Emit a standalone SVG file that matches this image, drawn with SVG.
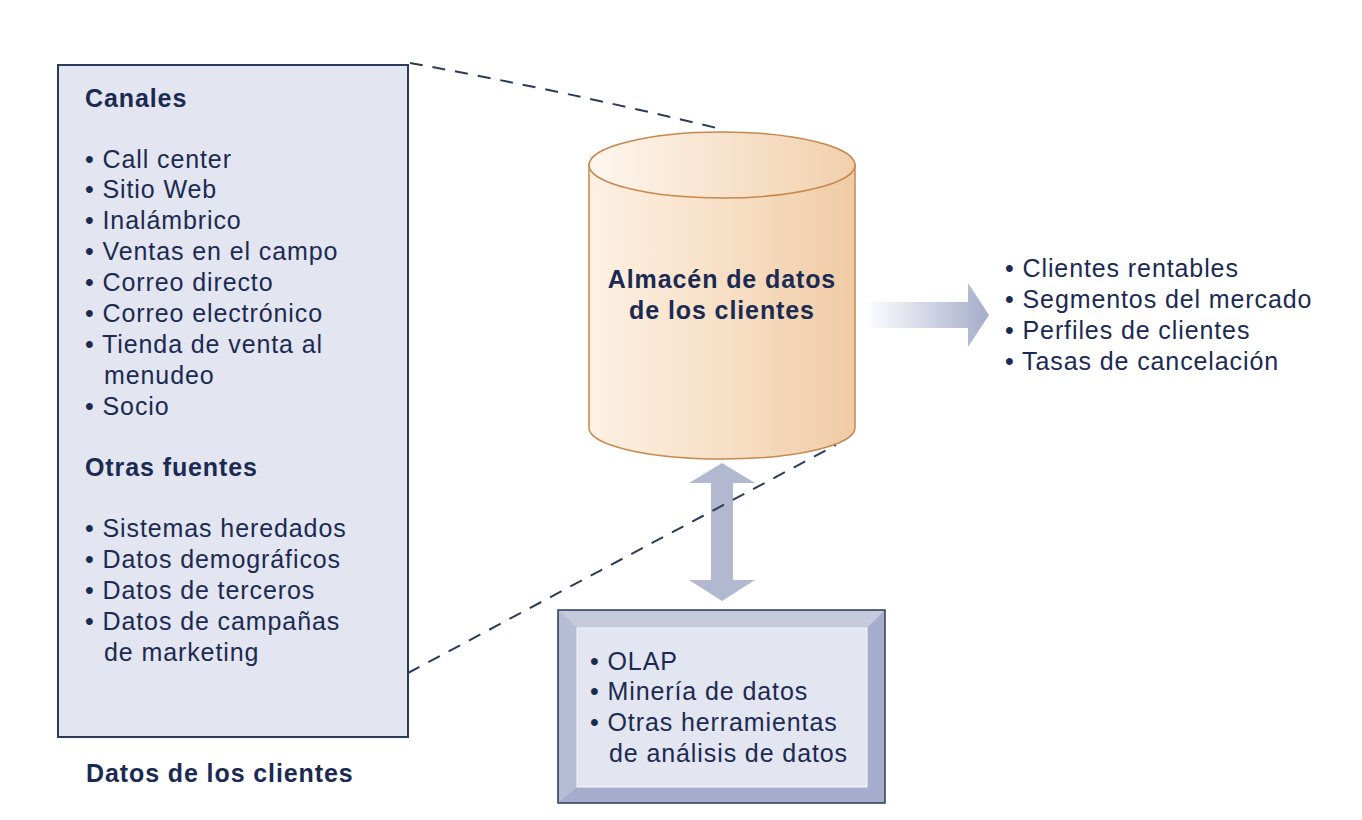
<svg xmlns="http://www.w3.org/2000/svg" width="1362" height="820" viewBox="0 0 1362 820">
<style>
text{font-family:"Liberation Sans",Arial,sans-serif;fill:#1b2a52;font-size:25px;letter-spacing:0.9px}
.b{font-weight:bold}
.dash{fill:none;stroke:#2b3b58;stroke-width:2;stroke-dasharray:13 10}
</style>
<defs>
<linearGradient id="cyl" x1="0" y1="0" x2="1" y2="0">
<stop offset="0" stop-color="#fdf1e4"/>
<stop offset="0.6" stop-color="#f6dcc0"/>
<stop offset="1" stop-color="#f0cba5"/>
</linearGradient>
<linearGradient id="cylTop" x1="0" y1="0" x2="1" y2="0">
<stop offset="0" stop-color="#fef6ee"/>
<stop offset="1" stop-color="#f1d0ad"/>
</linearGradient>
<linearGradient id="rarrow" x1="0" y1="0" x2="1" y2="0">
<stop offset="0" stop-color="#ffffff"/>
<stop offset="0.6" stop-color="#c9cde0"/>
<stop offset="1" stop-color="#a6acca"/>
</linearGradient>
</defs>
<rect width="1362" height="820" fill="#ffffff"/>

<g id="clientes">
<rect x="58" y="65" width="350" height="672" fill="#e3e5f0" stroke="#2b3b58" stroke-width="2"/>
<text class="b" x="85" y="107">Canales</text>
<text x="85" y="168">• Call center</text>
<text x="85" y="198">• Sitio Web</text>
<text x="85" y="229">• Inalámbrico</text>
<text x="85" y="260">• Ventas en el campo</text>
<text x="85" y="291">• Correo directo</text>
<text x="85" y="322">• Correo electrónico</text>
<text x="85" y="353">• Tienda de venta al</text>
<text x="104" y="384">menudeo</text>
<text x="85" y="415">• Socio</text>
<text class="b" x="85" y="476">Otras fuentes</text>
<text x="85" y="537">• Sistemas heredados</text>
<text x="85" y="568">• Datos demográficos</text>
<text x="85" y="599">• Datos de terceros</text>
<text x="85" y="630">• Datos de campañas</text>
<text x="104" y="661">de marketing</text>
<text class="b" x="86" y="782">Datos de los clientes</text>
</g>

<g id="connectors">
<path d="M722,463 L755,483 L733,483 L733,580 L755,580 L722,601 L689,580 L711,580 L711,483 L689,483 Z" fill="#b3b8d1"/>
<path d="M865,302 L968,302 L968,283 L989,315 L968,347 L968,328 L865,328 Z" fill="url(#rarrow)"/>
<path class="dash" d="M410,63 Q560,90 725,130"/>
<line class="dash" x1="408" y1="673" x2="836" y2="445"/>
</g>

<g id="almacen">
<path d="M589,165 L589,428 A133,31 0 0 0 855,428 L855,165 Z" fill="url(#cyl)" stroke="#c8874c" stroke-width="1.5"/>
<ellipse cx="722" cy="165" rx="133" ry="33" fill="url(#cylTop)" stroke="#c8874c" stroke-width="1.5"/>
<text class="b" x="722" y="288" text-anchor="middle">Almacén de datos</text>
<text class="b" x="722" y="319" text-anchor="middle">de los clientes</text>
</g>

<g id="resultados">
<text x="1005" y="277">• Clientes rentables</text>
<text x="1005" y="308">• Segmentos del mercado</text>
<text x="1005" y="339">• Perfiles de clientes</text>
<text x="1005" y="370">• Tasas de cancelación</text>
</g>

<g id="herramientas">
<rect x="558" y="610" width="327" height="193" fill="#a6accb" stroke="#2b3b58" stroke-width="1.5"/>
<path d="M559,611 L884,611 L867,628 L577,628 Z" fill="#c6cadd"/>
<path d="M559,611 L577,628 L577,787 L559,802 Z" fill="#b7bcd5"/>
<rect x="577" y="628" width="290" height="159" fill="#e3e5f0" stroke="#f4f5fa" stroke-width="1"/>
<text x="590" y="670">• OLAP</text>
<text x="590" y="700">• Minería de datos</text>
<text x="590" y="731">• Otras herramientas</text>
<text x="609" y="762">de análisis de datos</text>
</g>
</svg>
